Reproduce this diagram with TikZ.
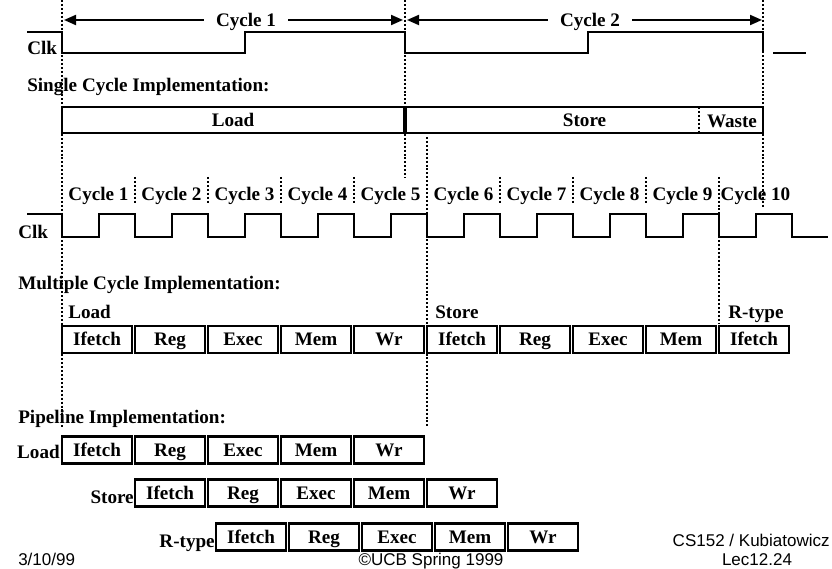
\documentclass[tikz,border=0pt]{standalone}
\usepackage{fontspec}
\setmainfont{Liberation Serif}
\newfontfamily\slidefont{Liberation Sans}
\usetikzlibrary{arrows.meta}
\newcommand{\lblfont}{\fontsize{13.6}{16}\selectfont\bfseries}
\tikzset{
  wave/.style={line width=1.4pt},
  guide/.style={line width=1.4pt, dash pattern=on 1.4pt off 1.4pt},
  lbl/.style={font=\lblfont, inner sep=0pt},
  stage/.style={draw, line width=1.5pt, anchor=west, outer sep=0pt, inner sep=0pt,
    minimum width=1.75cm, minimum height=0.675cm, text height=0.315cm, text depth=0pt,
    font=\lblfont},
  span/.style={line width=1.4pt, -{Triangle[length=0.3cm,width=0.25cm]}},
  foot/.style={font=\slidefont\fontsize{12.1}{14}\selectfont, inner sep=0pt},
}
\begin{document}
\begin{tikzpicture}[x=0.025cm, y=-0.025cm]
        \useasboundingbox (0,0) rectangle (832,569);

        % dotted guide lines
        \draw[guide] (62,0) -- (62,428);
        \draw[guide] (405,0) -- (405,178);
        \draw[guide] (763,0) -- (763,208);
        \draw[guide] (427,137) -- (427,428);
        \draw[guide] (699,107) -- (699,133);
        \draw[guide] (719,177) -- (719,323);
        \foreach \x in {135,208,281,354,500,573,646}
            \draw[guide] (\x,177) -- (\x,203);

        % single cycle clock
        \node[lbl, inner xsep=0.3cm, text height=0.315cm, text depth=0pt] (cyc1) at (246,20) {Cycle 1};
        \node[lbl, inner xsep=0.3cm, text height=0.315cm, text depth=0pt] (cyc2) at (590,20) {Cycle 2};
        \coordinate (c1l) at (64,20);
        \coordinate (c1r) at (403,20);
        \coordinate (c2l) at (407,20);
        \coordinate (c2r) at (762,20);
        \draw[span] (cyc1.west) -- (c1l);
        \draw[span] (cyc1.east) -- (c1r);
        \draw[span] (cyc2.west) -- (c2l);
        \draw[span] (cyc2.east) -- (c2r);

        \node[lbl, anchor=base west] (clka) at (27,55) {Clk};
        \draw[wave] (27,32) -- (62,32) -- (62,53) -- (245,53) -- (245,32) -- (405,32)
            -- (405,53) -- (588,53) -- (588,32) -- (763,32) -- (763,52);
        \draw[wave] (773,53) -- (806,53);

        \node[lbl, anchor=base west] (single) at (27,92) {Single Cycle Implementation:};
        \node[stage, minimum width=8.55cm, minimum height=0.65cm] (sload) at (62,120) {Load};
        \node[stage, minimum width=8.925cm, minimum height=0.65cm] (sstore) at (406,120) {Store};
        \node[lbl, anchor=base] (swaste) at (732,128) {Waste};

        % multiple cycle clock
        \foreach \k in {1,...,10}
            \node[lbl, anchor=base] (mc\k) at (25.5+73*\k,201) {Cycle \k};
        \node[lbl, anchor=base west] (clkb) at (18,239) {Clk};
        \draw[wave] (27,214) -- (62,214)
            \foreach \k in {1,...,10} { -- ++(0,23) -- ++(37,0) -- ++(0,-23) -- ++(36,0) }
            -- ++(0,23) -- (828,237);

        \node[lbl, anchor=base west] (multi) at (18,290) {Multiple Cycle Implementation:};
        \node[lbl, anchor=base west] (mload) at (68,319) {Load};
        \node[lbl, anchor=base west] (mstore) at (435,319) {Store};
        \node[lbl, anchor=base west] (mrtype) at (728,319) {R-type};
        \foreach \s [count=\i from 0] in {Ifetch,Reg,Exec,Mem,Wr,Ifetch,Reg,Exec,Mem,Ifetch}
            \node[stage] (m\i) at (62+73*\i,339.5) {\s};

        % pipeline
        \node[lbl, anchor=base west] (pipe) at (18,423) {Pipeline Implementation:};
        \node[lbl, anchor=base east] (pload) at (60,458) {Load};
        \node[lbl, anchor=base east] (pstore) at (134,503) {Store};
        \node[lbl, anchor=base east] (prtype) at (215,547) {R-type};
        \foreach \s [count=\i from 0] in {Ifetch,Reg,Exec,Mem,Wr} {
            \node[stage] (pl\i) at (62+73*\i,450) {\s};
            \node[stage] (ps\i) at (135+73*\i,493) {\s};
            \node[stage] (pr\i) at (216+73*\i,537) {\s};
        }

        % footer
        \node[foot, anchor=base west] (date) at (18,565) {3/10/99};
        \node[foot, anchor=base] (copy) at (431,565) {\textcopyright UCB Spring 1999};
        \node[foot, anchor=base east] (course) at (830,546) {CS152 / Kubiatowicz};
        \node[foot, anchor=base] (lec) at (757,565) {Lec12.24};
\end{tikzpicture}
\end{document}
